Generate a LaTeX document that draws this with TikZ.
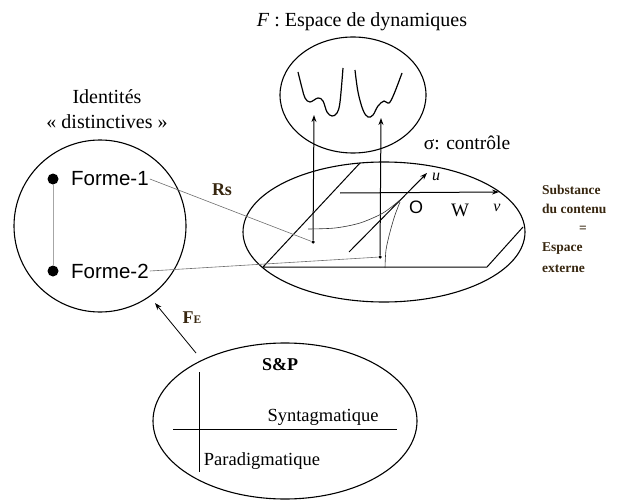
\documentclass[tikz,border=0pt]{standalone}
\usepackage{fontspec}
\setmainfont{Liberation Serif}
\newfontfamily\arialf{Liberation Sans}
\usetikzlibrary{shapes.geometric,arrows.meta}
\definecolor{labc}{RGB}{55,38,15}
\definecolor{thing}{RGB}{110,110,110}
\begin{document}
\begin{tikzpicture}[x=1pt,y=-1pt,
  txt/.style={font=\fontsize{18.5}{21}\selectfont, inner sep=0pt},
  bigtxt/.style={font=\fontsize{20}{23}\selectfont, inner sep=0pt},
  rtxt/.style={font=\fontsize{13.5}{15}\selectfont\bfseries, text=labc, inner sep=0pt},
  sanstxt/.style={font=\arialf\fontsize{20.5}{23}\selectfont, inner sep=1pt},
  outl/.style={draw, line width=1.1pt, inner sep=0pt},
  dotbig/.style={circle, fill, inner sep=0pt, minimum size=11pt},
  dotsmall/.style={circle, fill, inner sep=0pt, minimum size=3.5pt},
  main/.style={line width=1pt},
  fine/.style={line width=0.6pt, draw=thing},
  arr/.style={-{Stealth[length=7pt,width=5pt]}}
]
\useasboundingbox (0,0) rectangle (621,500);

% top: dynamics space
\node[bigtxt] (title) at (362,22) {\textit{F} : Espace de dynamiques};
\node[outl, ellipse, minimum width=146pt, minimum height=116pt] (dyn) at (353,95) {};
\draw[main, line width=1.2pt] plot[smooth, tension=0.6] coordinates {(298,72) (302,88) (305,98) (310,102) (318,98) (323,101) (327,112) (332,116) (337,113) (340,102) (343,68)};
\draw[main, line width=1.2pt] plot[smooth, tension=0.6] coordinates {(355,70) (358,92) (363,110) (368,117) (373,115) (378,106) (384,101) (389,103) (394,94) (402,73)};

\node[txt, font=\fontsize{19.5}{22}\selectfont] (ctrl) at (467,143) {σ: contrôle};

% control space
\node[outl, ellipse, minimum width=282pt, minimum height=140pt] (ctl) at (384,232) {};
\coordinate (pa) at (360,163);
\coordinate (pb) at (263,267);
\coordinate (pc) at (487,267);
\coordinate (pd) at (523,227);
\draw[main] (pa) -- (pb) -- (pc) -- (pd);

\node[dotsmall] (m1) at (313,242) {};
\node[dotsmall] (m2) at (380,257) {};
\coordinate (t1) at (314,115);
\coordinate (t2) at (381,118);
\draw[main, arr] (m1) -- (t1);
\draw[main, arr] (m2) -- (t2);

\coordinate (w0) at (340,193);
\coordinate (w1) at (499,192);
\draw[main, arr] (w0) -- (w1);
\coordinate (u0) at (349,252);
\coordinate (u1) at (427,173);
\draw[main, arr] (u0) -- (u1);
\draw[fine, draw=black!80] plot[smooth] coordinates {(308,229) (335,228) (360,223) (383,213) (400,200)};
\draw[fine, draw=black!80] plot[smooth] coordinates {(385,268) (386,250) (390,232) (395,215) (400,202)};

\node[font=\arialf\fontsize{18}{20}\selectfont, inner sep=0pt] (O) at (416,207) {O};
\node[txt, font=\fontsize{19}{21}\selectfont] (W) at (460,210) {W};
\node[txt, font=\fontsize{16}{18}\selectfont\itshape] (v) at (497,208) {v};
\node[txt, font=\fontsize{16}{18}\selectfont\itshape] (u) at (436,177) {u};

% right label
\node[rtxt, anchor=west] (s1) at (542,190) {Substance};
\node[rtxt, anchor=west] (s2) at (542,209) {du contenu};
\node[rtxt] (s3) at (583,229) {=};
\node[rtxt, anchor=west] (s4) at (542,249) {Espace};
\node[rtxt, anchor=west] (s5) at (542,269) {externe};

% identities circle
\node[bigtxt] (id1) at (107,97) {Identités};
\node[bigtxt] (id2) at (107,122) {« distinctives »};
\node[outl, circle, minimum size=172pt] (ident) at (100,226) {};
\node[dotbig] (d1) at (53,179) {};
\node[dotbig] (d2) at (53,271) {};
\draw[fine, draw=black!35] (d1) -- (d2);
\node[sanstxt, anchor=west] (f1) at (70,179) {Forme-1};
\node[sanstxt, anchor=west] (f2) at (70,271) {Forme-2};
\draw[fine] (f1.east) -- (m1);
\draw[fine] (f2.east) -- (m2);
\node[txt, font=\fontsize{18}{20}\selectfont\bfseries, text=labc] (rs) at (222,190) {Rs};

% S&P
\coordinate (fe0) at (196,353);
\coordinate (fe1) at (155,303);
\draw[line width=0.8pt, arr] (fe0) -- (fe1);
\node[txt, font=\fontsize{18}{20}\selectfont\bfseries, text=labc] (fe) at (192,318) {F{\fontsize{11.5}{12}\selectfont E}};
\node[outl, ellipse, minimum width=264pt, minimum height=156pt] (sp) at (285,421) {};
\node[txt, font=\fontsize{18}{20}\selectfont\bfseries] (spl) at (280,365) {S\&P};
\coordinate (va) at (199,372);
\coordinate (vb) at (199,472);
\coordinate (ha) at (173,429);
\coordinate (hb) at (397,429);
\draw[main] (va) -- (vb);
\draw[main] (ha) -- (hb);
\node[txt] (syn) at (323,417) {Syntagmatique};
\node[txt] (par) at (262,461) {Paradigmatique};
\end{tikzpicture}
\end{document}
